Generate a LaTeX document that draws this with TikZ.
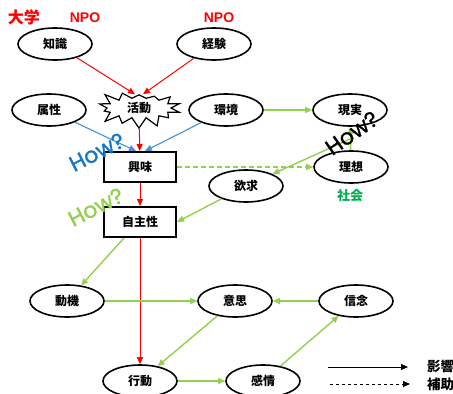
\documentclass[tikz,border=0pt]{standalone}
\usepackage{fontspec}
\setmainfont{Liberation Sans}
\newfontfamily\jp{Noto Sans CJK JP}
\newfontfamily\howfont[FakeBold=1.2]{Poppins}
\usetikzlibrary{shapes.geometric,shapes.symbols,arrows.meta}
\definecolor{lgreen}{RGB}{146,208,80}
\definecolor{dgreen}{RGB}{0,176,80}
\definecolor{lblue}{RGB}{70,145,215}
\definecolor{hblue}{RGB}{20,120,200}
\tikzset{
  oval/.style={ellipse,draw,line width=1.6pt,minimum width=74pt,minimum height=32pt,inner sep=0pt,font=\jp\bfseries\fontsize{12}{12}\selectfont},
  boxnode/.style={rectangle,draw,line width=2pt,minimum width=72pt,minimum height=30pt,inner sep=0pt,font=\jp\bfseries\fontsize{12}{12}\selectfont},
  tip/.style={-{Triangle[length=7pt,width=6pt]}},
  redarrow/.style={tip,red,line width=1pt},
  bluearrow/.style={tip,lblue,line width=1.1pt},
  greenarrow/.style={tip,lgreen,line width=1.4pt},
  howtext/.style={font=\howfont\fontsize{22}{22}\selectfont,inner sep=0pt},
  redlabel/.style={red,font=\bfseries\fontsize{14}{14}\selectfont,inner sep=0pt},
  legendtext/.style={anchor=west,inner sep=0pt,font=\jp\bfseries\fontsize{13.5}{13.5}\selectfont}
}
\begin{document}
\begin{tikzpicture}[x=1pt,y=-1pt]
\useasboundingbox (0,0) rectangle (453,394);
% headings
\node[redlabel,font=\jp\bfseries\fontsize{16}{16}\selectfont] (univ) at (24,17) {大学};
\node[redlabel] (npoa) at (85,18) {NPO};
\node[redlabel] (npob) at (219,18) {NPO};
% nodes
\node[oval] (know) at (55,44) {知識};
\node[oval] (exp) at (214,44) {経験};
\node[starburst,draw,line width=1.2pt,starburst points=14,starburst point height=12pt,random starburst=23,minimum width=88pt,minimum height=44pt,inner sep=0pt,font=\jp\bfseries\fontsize{12}{12}\selectfont] (act) at (139,108) {活動};
\node[oval] (attr) at (49,110) {属性};
\node[oval] (env) at (226,110) {環境};
\node[oval] (real) at (350,110) {現実};
\node[boxnode] (interest) at (140,167) {興味};
\node[oval] (ideal) at (351,167) {理想};
\node[dgreen,font=\jp\bfseries\fontsize{13}{13}\selectfont,inner sep=0pt] (society) at (350,196) {社会};
\node[oval] (desire) at (246,186) {欲求};
\node[boxnode] (autonomy) at (140,222) {自主性};
\node[oval] (motive) at (67,301) {動機};
\node[oval] (will) at (235,301) {意思};
\node[oval] (belief) at (356,301) {信念};
\node[oval] (action) at (140,381) {行動};
\node[oval] (feeling) at (263,381) {感情};
% red connectors
\draw[redarrow] (know) -- ([xshift=-4pt]act.north);
\draw[redarrow] (exp) -- ([xshift=4pt]act.north);
\draw[redarrow] (act) -- (interest);
\draw[redarrow] (interest) -- (autonomy);
\draw[redarrow] (autonomy) -- (action);
% blue connectors
\draw[bluearrow] (attr) -- ([xshift=-4pt]interest.north);
\draw[bluearrow] (env) -- ([xshift=5pt]interest.north);
% green connectors
\draw[greenarrow] (env) -- (real);
\draw[greenarrow,dashed,dash pattern=on 5pt off 3pt] (interest) -- (ideal);
\draw[greenarrow] (ideal) -- (real);
\coordinate (link) at (350,139);
\draw[greenarrow] (link) -- (desire);
\draw[greenarrow] (desire) -- (autonomy.east);
\draw[greenarrow] ([xshift=-16pt]autonomy.south) -- (motive);
\draw[greenarrow] (motive) -- (will);
\draw[greenarrow] (belief) -- (will);
\draw[greenarrow] (will) -- (action);
\draw[greenarrow] (action) -- (feeling);
\draw[greenarrow] (feeling) -- (belief);
% question labels
\node[howtext,hblue,rotate=27] (howa) at (97,152) {How?};
\node[howtext,lgreen,rotate=27] (howb) at (96,207) {How?};
\node[howtext,black,rotate=35] (howc) at (352,133) {How?};
% legend
\coordinate (la) at (328,367);
\coordinate (lb) at (408,367);
\coordinate (lc) at (330,384);
\coordinate (ld) at (410,384);
\draw[tip,line width=0.9pt] (la) -- (lb);
\draw[tip,line width=0.9pt,dashed,dash pattern=on 3pt off 3pt] (lc) -- (ld);
\node[legendtext] (lega) at (427,366) {影響};
\node[legendtext] (legb) at (427,384) {補助};
\end{tikzpicture}
\end{document}
